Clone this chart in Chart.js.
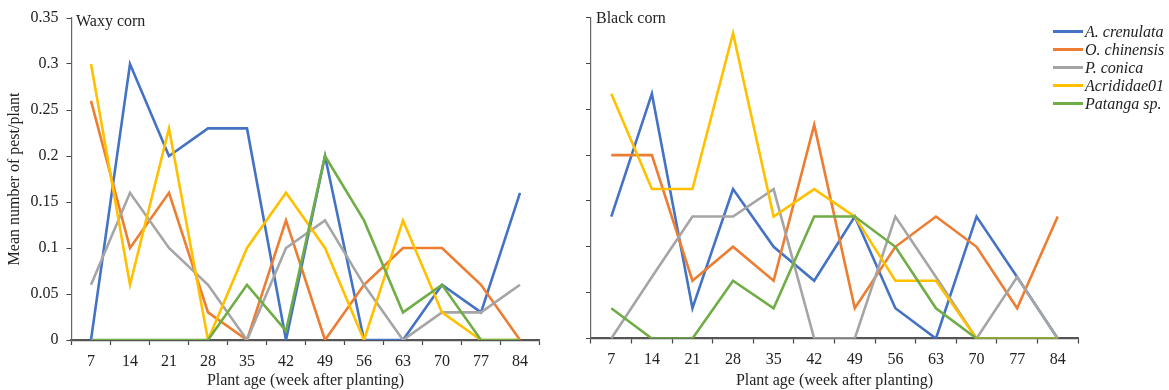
<!DOCTYPE html>
<html>
<head>
<meta charset="utf-8">
<script src="https://cdn.jsdelivr.net/npm/chart.js@4.4.1/dist/chart.umd.min.js"></script>
<style>
  html, body { margin: 0; padding: 0; background: #fff; }
  #wrap { position: relative; width: 1169px; height: 390px; overflow: hidden; font-family: "Liberation Serif", "DejaVu Serif", serif; }
  canvas { position: absolute; top: 0; }
  .panel-title { position: absolute; font-size: 16px; color: #222; }
  #legend { position: absolute; left: 1053px; top: 23px; }
  .leg-row { height: 17.9px; display: flex; align-items: center; font-style: italic; font-size: 16px; color: #222; white-space: nowrap; }
  .leg-line { display: inline-block; width: 30px; height: 3px; margin-right: 2px; }
</style>
</head>
<body>
<div id="wrap">
  <canvas id="left" width="580" height="390" style="left:0px;width:580px;height:390px"></canvas>
  <canvas id="right" width="589" height="390" style="left:580px;width:589px;height:390px"></canvas>
  <div class="panel-title" style="left:76px;top:12px">Waxy corn</div>
  <div class="panel-title" style="left:596px;top:9px">Black corn</div>
  <div id="legend"></div>
</div>
<script>
// ---- data ----
const categories = ["7", "14", "21", "28", "35", "42", "49", "56", "63", "70", "77", "84"];
const seriesNames = ["A. crenulata", "O. chinensis", "P. conica", "Acrididae01", "Patanga sp."];
const seriesColors = ["#4472C4", "#ED7D31", "#A5A5A5", "#FFC000", "#70AD47"];
const yTickLabels = ["0", "0.05", "0.1", "0.15", "0.2", "0.25", "0.3", "0.35"];

// Waxy corn
const waxyCrenulata = [0, 0.30, 0.20, 0.23, 0.23, 0, 0.20, 0, 0, 0.06, 0.03, 0.16];
const waxyChinensis = [0.26, 0.10, 0.16, 0.03, 0, 0.13, 0, 0.06, 0.10, 0.10, 0.06, 0];
const waxyConica = [0.06, 0.16, 0.10, 0.06, 0, 0.10, 0.13, 0.06, 0, 0.03, 0.03, 0.06];
const waxyAcrididae = [0.30, 0.06, 0.23, 0, 0.10, 0.16, 0.10, 0, 0.13, 0.03, 0, 0];
const waxyPatanga = [0, 0, 0, 0, 0.06, 0.01, 0.20, 0.13, 0.03, 0.06, 0, 0];

// Black corn
const blackCrenulata = [0.133, 0.267, 0.033, 0.163, 0.1, 0.063, 0.133, 0.033, 0, 0.133, 0.067, 0];
const blackChinensis = [0.2, 0.2, 0.063, 0.1, 0.063, 0.233, 0.033, 0.1, 0.133, 0.1, 0.033, 0.133];
const blackConica = [0, 0.067, 0.133, 0.133, 0.163, 0, 0, 0.133, 0.067, 0, 0.067, 0];
const blackAcrididae = [0.267, 0.163, 0.163, 0.333, 0.133, 0.163, 0.133, 0.063, 0.063, 0, 0, 0];
const blackPatanga = [0.033, 0, 0, 0.063, 0.033, 0.133, 0.133, 0.1, 0.033, 0, 0, 0];

const waxySeries = [waxyCrenulata, waxyChinensis, waxyConica, waxyAcrididae, waxyPatanga];
const blackSeries = [blackCrenulata, blackChinensis, blackConica, blackAcrididae, blackPatanga];

// ---- chart building ----
const FONT = "'Liberation Serif', 'DejaVu Serif', serif";
Chart.defaults.font.family = FONT;
Chart.defaults.color = "#222";

function makeDatasets(seriesList) {
  return seriesList.map((vals, i) => ({
    label: seriesNames[i],
    data: vals,
    borderColor: seriesColors[i],
    backgroundColor: seriesColors[i],
    borderWidth: 2.6,
    pointRadius: 0,
    pointHoverRadius: 0,
    tension: 0,
    fill: false,
    order: seriesList.length - i
  }));
}

function makeChart(id, seriesList, geo) {
  return new Chart(document.getElementById(id), {
    type: "line",
    data: { labels: categories, datasets: makeDatasets(seriesList) },
    options: {
      responsive: false,
      animation: false,
      devicePixelRatio: 1,
      layout: { padding: { left: 0, right: geo.padRight, top: geo.padTop, bottom: 0 } },
      plugins: { legend: { display: false }, tooltip: { enabled: false }, title: { display: false } },
      scales: {
        x: {
          type: "category",
          offset: true,
          grid: { display: true, drawOnChartArea: false, drawTicks: true, tickLength: 5, offset: true, tickColor: "#444", tickWidth: 1.2 },
          border: { display: true, color: "#555", width: 2.2 },
          ticks: { color: "#222", font: { size: 16, family: FONT }, padding: 7, maxRotation: 0, autoSkip: false },
          title: { display: true, text: "Plant age (week after planting)", color: "#222", font: { size: 16, family: FONT }, padding: { top: 0, bottom: 0 } },
          afterFit: (s) => { s.height = geo.xHeight; }
        },
        y: {
          type: "linear",
          min: 0,
          max: 0.35,
          grid: { display: true, drawOnChartArea: false, drawTicks: true, tickLength: 5, tickColor: "#444", tickWidth: 1 },
          border: { display: true, color: "#666", width: 1.2 },
          ticks: {
            stepSize: 0.05,
            color: "#222",
            padding: 8,
            font: { size: 16, family: FONT },
            callback: (v) => {
              if (!geo.showYLabels) return "";
              const idx = Math.round(v / 0.05);
              return yTickLabels[idx] !== undefined ? yTickLabels[idx] : "";
            }
          },
          title: { display: geo.showYTitle, text: "Mean number of pest/plant", color: "#222", font: { size: 16, family: FONT }, padding: { top: 5, bottom: 0 } },
          afterFit: (s) => { s.width = geo.yWidth; }
        }
      }
    }
  });
}

makeChart("left", waxySeries, { padRight: 40.5, padTop: 18, xHeight: 50, yWidth: 71.5, showYLabels: true, showYTitle: true });
makeChart("right", blackSeries, { padRight: 91, padTop: 12, xHeight: 51.5, yWidth: 11, showYLabels: false, showYTitle: false });

// ---- legend ----
const legend = document.getElementById("legend");
seriesNames.forEach((name, i) => {
  const row = document.createElement("div");
  row.className = "leg-row";
  const line = document.createElement("span");
  line.className = "leg-line";
  line.style.background = seriesColors[i];
  const txt = document.createElement("span");
  txt.textContent = name;
  row.appendChild(line);
  row.appendChild(txt);
  legend.appendChild(row);
});
</script>
</body>
</html>
